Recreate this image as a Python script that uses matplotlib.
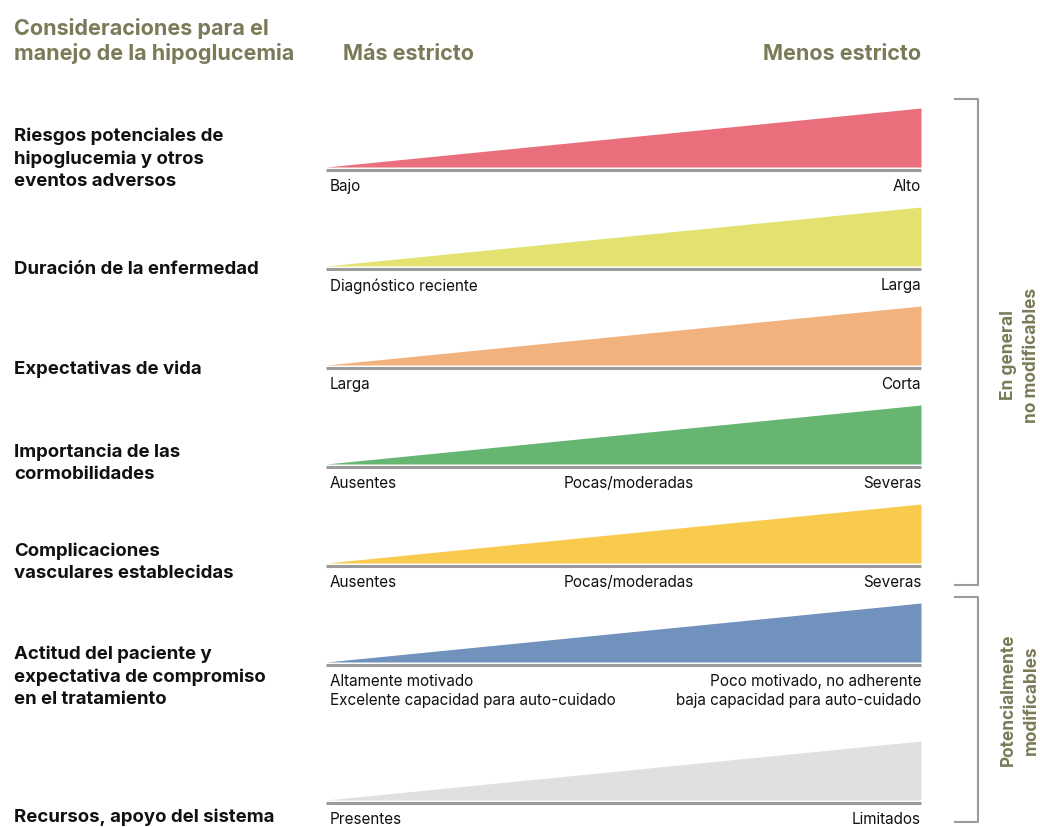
import numpy as np
import matplotlib.pyplot as plt

plt.rcParams['font.family'] = ['Inter', 'DejaVu Sans']

# rows of the chart
factors = [
    "Riesgos potenciales de\nhipoglucemia y otros\neventos adversos",
    "Duración de la enfermedad",
    "Expectativas de vida",
    "Importancia de las\ncormobilidades",
    "Complicaciones\nvasculares establecidas",
    "Actitud del paciente y\nexpectativa de compromiso\nen el tratamiento",
    "Recursos, apoyo del sistema",
]
left_labels = [
    "Bajo", "Diagnóstico reciente", "Larga", "Ausentes", "Ausentes",
    "Altamente motivado\nExcelente capacidad para auto-cuidado", "Presentes",
]
mid_labels = ["", "", "", "Pocas/moderadas", "Pocas/moderadas", "", ""]
right_labels = [
    "Alto", "Larga", "Corta", "Severas", "Severas",
    "Poco motivado, no adherente\nbaja capacidad para auto-cuidado", "Limitados",
]
colors = ["#E96F7D", "#E3E16F", "#F2B27E", "#66B571", "#F8CB4E", "#7092BD", "#E0E0DE"]
# wedge goes from "more strict" (0) to "less strict" (1)
wedge_x = np.array([0.0, 1.0])
wedge_h = np.array([0.0, 1.0])

olive = "#7B7A58"

# layout in pixels
W, H = 1040, 827
x0, x1 = 326, 921
baselines = [167, 266, 365, 464, 563, 662, 800]
tri_h = 59
label_y = [159, 270, 369, 463, 562, 677, 817]

fig = plt.figure(figsize=(W / 100, H / 100), dpi=100)
ax = fig.add_axes([0, 0, 1, 1])
ax.set_xlim(0, W)
ax.set_ylim(H, 0)
ax.axis('off')

for i in range(len(factors)):
    b = baselines[i]
    xs = x0 + wedge_x * (x1 - x0)
    ax.fill_between(xs, b, b - wedge_h * tri_h, color=colors[i], lw=0)
    ax.plot([x0, x1], [b + 2.5, b + 2.5], color="#9B9B9B", lw=2.2, solid_capstyle='butt')
    ax.text(14, label_y[i], factors[i], fontsize=13.4, fontweight='bold', color="#111111",
            va='center', ha='left', linespacing=1.38)
    ty = b + 12
    ax.text(x0 + 4, ty, left_labels[i], fontsize=11, va='top', ha='left', color="#111111",
            linespacing=1.35)
    ax.text(x1, ty, right_labels[i], fontsize=11, va='top', ha='right', color="#111111",
            linespacing=1.35)
    if mid_labels[i]:
        ax.text((x0 + x1) / 2 + 5, ty, mid_labels[i], fontsize=11, va='top', ha='center',
                color="#111111")

# headers
ax.text(14, 41, "Consideraciones para el\nmanejo de la hipoglucemia", fontsize=15.5,
        fontweight='bold', color=olive, va='center', ha='left', linespacing=1.2)
ax.text(343, 54, "Más estricto", fontsize=15.5, fontweight='bold', color=olive,
        va='center', ha='left')
ax.text(x1, 54, "Menos estricto", fontsize=15.5, fontweight='bold', color=olive,
        va='center', ha='right')

# brackets
bx = 978
for top, bot, txt, cy in [(99, 585, "En general\nno modificables", 355),
                          (597, 822, "Potencialmente\nmodificables", 700)]:
    ax.plot([955, bx, bx, 955], [top, top, bot, bot], color="#9B9B9B", lw=1.5)
    ax.text(1020, cy, txt, rotation=90, fontsize=12.5, fontweight='bold', color=olive,
            va='center', ha='center', linespacing=1.45, multialignment='center')

fig.savefig("out.png", dpi=100)
